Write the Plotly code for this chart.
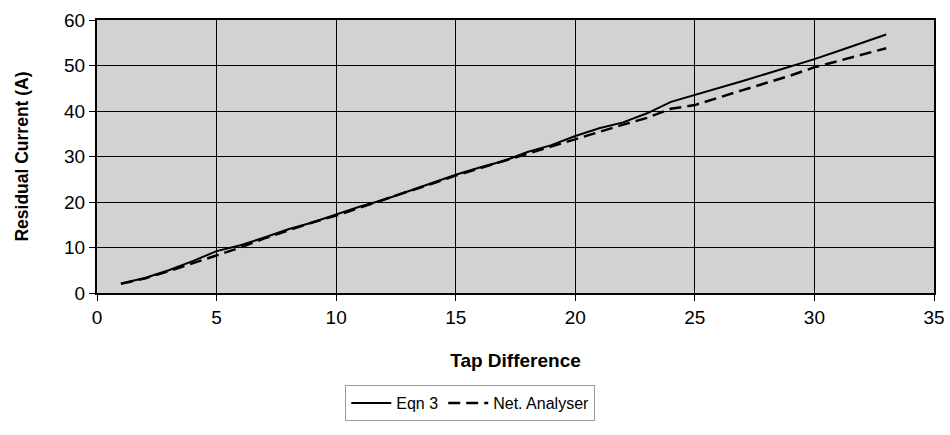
import plotly.graph_objects as go

tap = list(range(1, 34))
eqn3 = [2.1, 3.3, 5.0, 7.0, 9.2, 10.5, 12.2, 14.0, 15.5, 17.2, 19.0, 20.5, 22.3, 24.2, 26.0,
        27.6, 29.0, 31.0, 32.5, 34.5, 36.2, 37.5, 39.5, 42.0, 43.5, 45.0, 46.6, 48.2, 49.8,
        51.4, 53.2, 55.0, 56.8]
net_analyser = [2.0, 3.2, 4.8, 6.5, 8.3, 10.0, 12.0, 13.8, 15.5, 17.0, 18.8, 20.5, 22.3, 24.0,
                25.8, 27.4, 29.0, 30.6, 32.2, 33.8, 35.5, 37.0, 38.5, 40.5, 41.3, 43.0, 44.6,
                46.2, 47.8, 49.6, 51.0, 52.4, 53.8]

font = "Liberation Sans, Arial, sans-serif"

fig = go.Figure()
fig.add_trace(go.Scatter(x=tap, y=eqn3, mode="lines", name="Eqn 3",
                         line=dict(color="black", width=2)))
fig.add_trace(go.Scatter(x=tap, y=net_analyser, mode="lines", name="Net. Analyser",
                         line=dict(color="black", width=2.5, dash="12px,6px")))

fig.update_layout(
    width=950, height=435,
    margin=dict(l=97, r=16, t=20, b=142),
    paper_bgcolor="white",
    plot_bgcolor="#d2d2d2",
    font=dict(family=font, color="black", size=16),
    showlegend=True,
    legend=dict(orientation="h", x=0.446, y=-0.403, xanchor="center", yanchor="middle",
                bordercolor="#999999", borderwidth=1, bgcolor="white",
                font=dict(size=16, family=font), itemwidth=40),
    xaxis=dict(range=[0, 35], dtick=5, tick0=0, showgrid=True, gridcolor="black", gridwidth=1,
               zeroline=False, showline=True, linecolor="black", linewidth=2, mirror=True,
               ticks="outside", ticklen=6, tickcolor="black", automargin=False,
               tickfont=dict(size=19, family=font),
               title=dict(text="<b>Tap Difference</b>", font=dict(size=19, family=font), standoff=27)),
    yaxis=dict(range=[0, 60], dtick=10, tick0=0, showgrid=True, gridcolor="black", gridwidth=1,
               zeroline=False, showline=True, linecolor="black", linewidth=2, mirror=True,
               ticks="outside", ticklen=6, tickcolor="black", automargin=False,
               tickfont=dict(size=19, family=font),
               title=dict(text="<b>Residual Current (A)</b>", font=dict(size=17.5, family=font), standoff=31)),
)

fig.write_html("out.html", config={"displayModeBar": False},
               post_script="document.body.style.margin='0px';document.body.style.overflow='hidden';")
